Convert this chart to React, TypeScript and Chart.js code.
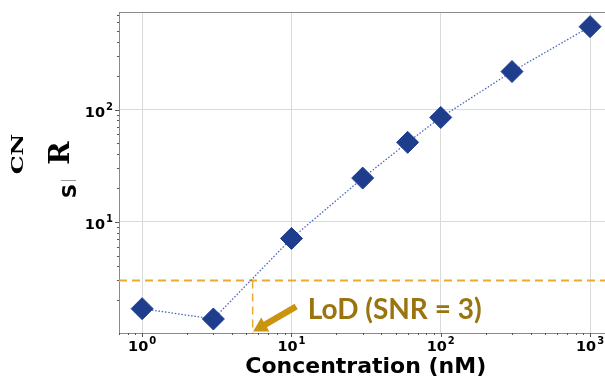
import React, { useEffect, useRef } from "react";
import { Chart, registerables } from "chart.js";

Chart.register(...registerables);

// ---- data ----
const concentrations = [1, 3, 10, 30, 60, 100, 300, 1000];
const snrValues = [1.68, 1.36, 7.1, 24.5, 51, 85, 218, 548];
const xMajorTicks = [1, 10, 100, 1000];
const xTickExponents = ["0", "1", "2", "3"];
const yMajorTicks = [10, 100];
const yTickExponents = ["1", "2"];
const tickBase = "10";
const lodSnr = 3;
const lodConc = 5.5;
const lodText = "LoD (SNR = 3)";
const xTitle = "Concentration (nM)";

// ---- styles ----
const markerColor = "#1e3d8c";
const lineColor = "#4a68b8";
const axisColor = "#8a8a8a";
const gridColor = "#dadada";
const lodLineColor = "#eeaa30";
const arrowColor = "#c9950f";
const lodTextColor = "#9a740e";

const isPow10 = (v: number) => Math.abs(Math.log10(v) - Math.round(Math.log10(v))) < 1e-9;
const isMinor = (v: number) => {
  const e = Math.floor(Math.log10(v) + 1e-9);
  const m = v / Math.pow(10, e);
  return Math.abs(m - Math.round(m)) < 1e-6;
};

const baseFont = "bold 14.5px 'DejaVu Sans'";
const expFont = "bold 10px 'DejaVu Sans'";

function drawPowLabel(ctx: any, exp: string, x: number, baseline: number, align: "center" | "right") {
  ctx.font = baseFont;
  const wb = ctx.measureText(tickBase).width;
  ctx.font = expFont;
  const we = ctx.measureText(exp).width;
  const total = wb + 1 + we;
  const left = align === "center" ? x - total / 2 : x - total;
  ctx.textAlign = "left";
  ctx.textBaseline = "alphabetic";
  ctx.font = baseFont;
  ctx.fillText(tickBase, left, baseline);
  ctx.font = expFont;
  ctx.fillText(exp, left + wb + 1, baseline - 7);
}

const overlay = {
  id: "overlay",
  beforeDatasetsDraw(chart: any) {
    const { ctx, chartArea: a, scales } = chart;
    const x = scales.x, y = scales.y;
    ctx.save();
    // top / right spines
    ctx.strokeStyle = axisColor;
    ctx.lineWidth = 1;
    ctx.beginPath();
    ctx.moveTo(a.left, a.top + 0.5);
    ctx.lineTo(a.right, a.top + 0.5);
    ctx.moveTo(a.right - 0.5, a.top);
    ctx.lineTo(a.right - 0.5, a.bottom);
    ctx.stroke();
    // ticks
    ctx.strokeStyle = "#555";
    ctx.beginPath();
    for (const t of x.ticks) {
      const v = t.value;
      if (v < x.min || v > x.max || !isMinor(v)) continue;
      const len = isPow10(v) ? 4 : 2;
      const px = Math.round(x.getPixelForValue(v)) + 0.5;
      ctx.moveTo(px, a.bottom);
      ctx.lineTo(px, a.bottom + len);
    }
    for (const t of y.ticks) {
      const v = t.value;
      if (v < y.min || v > y.max || !isMinor(v)) continue;
      const len = isPow10(v) ? 4 : 2;
      const py = Math.round(y.getPixelForValue(v)) + 0.5;
      ctx.moveTo(a.left, py);
      ctx.lineTo(a.left - len, py);
    }
    ctx.stroke();
    // tick labels
    ctx.fillStyle = "#000";
    xMajorTicks.forEach((v, i) => {
      drawPowLabel(ctx, xTickExponents[i], x.getPixelForValue(v), a.bottom + 18, "center");
    });
    yMajorTicks.forEach((v, i) => {
      drawPowLabel(ctx, yTickExponents[i], a.left - 6, y.getPixelForValue(v) + 7, "right");
    });
    // LoD dashed lines
    const yT = y.getPixelForValue(lodSnr);
    const xL = x.getPixelForValue(lodConc);
    ctx.setLineDash([8, 5]);
    ctx.strokeStyle = lodLineColor;
    ctx.lineWidth = 2;
    ctx.beginPath();
    ctx.moveTo(a.left, yT);
    ctx.lineTo(a.right, yT);
    ctx.stroke();
    ctx.lineWidth = 1.5;
    ctx.beginPath();
    ctx.moveTo(xL, yT);
    ctx.lineTo(xL, a.bottom);
    ctx.stroke();
    ctx.restore();
  },
  afterDraw(chart: any) {
    const { ctx, chartArea: a, scales } = chart;
    const x = scales.x;
    const xL = x.getPixelForValue(lodConc);
    ctx.save();
    // arrow
    const tipX = xL + 0.5, tipY = a.bottom - 1.5;
    const tailX = tipX + 43, tailY = tipY - 25;
    const ang = Math.atan2(tipY - tailY, tipX - tailX);
    const len = Math.hypot(tipX - tailX, tipY - tailY);
    ctx.translate(tailX, tailY);
    ctx.rotate(ang);
    ctx.fillStyle = arrowColor;
    const hl = 14, hw = 8, sw = 3.2;
    ctx.beginPath();
    ctx.moveTo(0, -sw);
    ctx.lineTo(len - hl, -sw);
    ctx.lineTo(len - hl, -hw);
    ctx.lineTo(len, 0);
    ctx.lineTo(len - hl, hw);
    ctx.lineTo(len - hl, sw);
    ctx.lineTo(0, sw);
    ctx.closePath();
    ctx.fill();
    ctx.restore();

    // LoD text
    ctx.save();
    ctx.fillStyle = lodTextColor;
    ctx.font = "bold 28px Lato";
    ctx.textAlign = "left";
    ctx.textBaseline = "alphabetic";
    ctx.fillText(lodText, xL + 55, a.bottom - 14);
    ctx.restore();

    // y-axis label pieces
    ctx.save();
    ctx.fillStyle = "#000";
    ctx.textAlign = "center";
    ctx.textBaseline = "middle";
    ctx.save();
    ctx.translate(19, 154);
    ctx.rotate(-Math.PI / 2);
    ctx.scale(1.4, 1);
    ctx.font = "bold 17px 'DejaVu Serif'";
    ctx.fillText("CN", 0, 0);
    ctx.restore();
    ctx.save();
    ctx.translate(61, 153);
    ctx.rotate(-Math.PI / 2);
    ctx.font = "bold 28px 'DejaVu Serif'";
    ctx.fillText("R", 0, 1);
    ctx.restore();
    ctx.save();
    ctx.translate(70, 191);
    ctx.rotate(-Math.PI / 2);
    ctx.font = "bold 20px 'DejaVu Sans'";
    ctx.fillText("S", 0, 1);
    ctx.restore();
    ctx.strokeStyle = "#9a9a9a";
    ctx.lineWidth = 1;
    ctx.beginPath();
    ctx.moveTo(61, 180.5);
    ctx.lineTo(76, 180.5);
    ctx.stroke();
    ctx.restore();
  },
};

export default function App() {
  const ref = useRef<HTMLCanvasElement | null>(null);
  useEffect(() => {
    if (!ref.current) return;
    const chart = new Chart(ref.current, {
      type: "line",
      data: {
        datasets: [
          {
            data: concentrations.map((c, i) => ({ x: c, y: snrValues[i] })),
            borderColor: lineColor,
            borderWidth: 1.3,
            borderDash: [1.5, 1.8],
            pointStyle: "rectRot",
            pointRadius: 11,
            pointBackgroundColor: markerColor,
            pointBorderColor: markerColor,
            pointBorderWidth: 1,
            tension: 0,
            clip: false as any,
          },
        ],
      },
      options: {
        animation: false,
        responsive: false,
        devicePixelRatio: 1,
        layout: { padding: { top: 7, right: 12.5, left: 0, bottom: 0 } },
        plugins: { legend: { display: false }, tooltip: { enabled: false } },
        scales: {
          x: {
            type: "logarithmic",
            min: 0.708,
            max: 1413,
            afterFit: (s: any) => {
              s.height = 48;
            },
            border: { display: true, color: axisColor, width: 1 },
            grid: {
              drawTicks: false,
              color: (c: any) => (c.tick && isPow10(c.tick.value) ? gridColor : "rgba(0,0,0,0)"),
              lineWidth: 1,
            },
            ticks: { display: false, autoSkip: false },
            title: {
              display: true,
              text: xTitle,
              color: "#000",
              font: { family: "DejaVu Sans", weight: "bold", size: 22 },
              padding: { top: 0, bottom: 1 },
            },
          },
          y: {
            type: "logarithmic",
            min: 1.02,
            max: 740,
            afterFit: (s: any) => {
              s.width = 119;
            },
            border: { display: true, color: axisColor, width: 1 },
            grid: {
              drawTicks: false,
              color: (c: any) => (c.tick && isPow10(c.tick.value) ? gridColor : "rgba(0,0,0,0)"),
              lineWidth: 1,
            },
            ticks: { display: false, autoSkip: false },
          },
        },
      },
      plugins: [overlay],
    } as any);
    return () => chart.destroy();
  }, []);
  return (
    <div
      style={{
        position: "fixed",
        left: 0,
        top: 0,
        width: 605,
        height: 381,
        overflow: "hidden",
        background: "#fff",
      }}
    >
      <canvas ref={ref} width={625} height={381} style={{ display: "block" }} />
    </div>
  );
}
